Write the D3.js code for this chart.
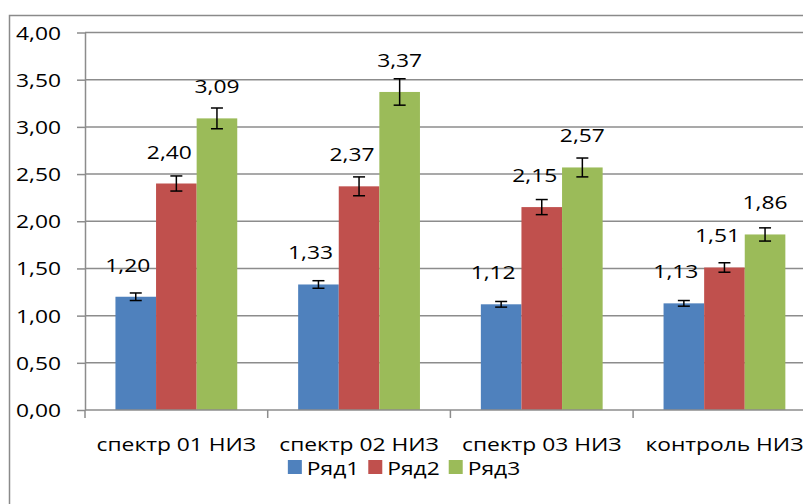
<!DOCTYPE html>
<html>
<head>
<meta charset="utf-8">
<script src="https://cdn.jsdelivr.net/npm/d3@7"></script>
<style>
  html, body { margin: 0; padding: 0; background: #fff; }
  text { font-family: "Open Sans", "Noto Sans", sans-serif; fill: #000; }
</style>
</head>
<body>
<svg id="chart" width="803" height="504"></svg>
<script>
// ---- data ----
const categories = ["спектр 01 НИЗ", "спектр 02 НИЗ", "спектр 03 НИЗ", "контроль НИЗ"];
const seriesNames = ["Ряд1", "Ряд2", "Ряд3"];
const ryad1 = [1.20, 1.33, 1.12, 1.13];
const ryad2 = [2.40, 2.37, 2.15, 1.51];
const ryad3 = [3.09, 3.37, 2.57, 1.86];
const err1 = [0.04, 0.04, 0.03, 0.03];
const err2 = [0.08, 0.10, 0.08, 0.05];
const err3 = [0.11, 0.14, 0.10, 0.07];
const yTicks = [0, 0.5, 1, 1.5, 2, 2.5, 3, 3.5, 4];

// ---- styles ----
const colors = ["#4F81BD", "#C0504D", "#9BBB59"];
const gridColor = "#8c8c8c";
const SX = 1.2; // horizontal text stretch
const fontSize = 19;

const seriesVals = [ryad1, ryad2, ryad3];
const seriesErr = [err1, err2, err3];
const fmt = v => d3.format(".2f")(v).replace(".", ",");

const svg = d3.select("#chart");
const plotLeft = 85, plotTop = 32.5, plotBottom = 410;
const groupW = 182.7;
const plotRight = plotLeft + categories.length * groupW;

// chart border
svg.append("rect").attr("x", 9.5).attr("y", 15.5)
  .attr("width", 830).attr("height", 520)
  .attr("fill", "#fff").attr("stroke", "#8a8a8a").attr("stroke-width", 1.5);

const x = d3.scaleBand().domain(categories).range([plotLeft, plotRight]).padding(0);
const barW = x.bandwidth() / 4.5;
const xs = d3.scaleBand().domain(seriesNames)
  .range([barW * 0.75, barW * 0.75 + 3 * barW]).padding(0);
const y = d3.scaleLinear().domain([0, 4]).range([plotBottom, plotTop]);

// gridlines
svg.append("g").selectAll("line").data(yTicks.filter(t => t > 0)).join("line")
  .attr("x1", plotLeft).attr("x2", plotRight)
  .attr("y1", d => y(d)).attr("y2", d => y(d))
  .attr("stroke", gridColor).attr("stroke-width", 1.5);

// y axis
const yAxis = svg.append("g").attr("transform", `translate(${plotLeft},0)`)
  .call(d3.axisLeft(y).tickValues(yTicks).tickSize(8).tickSizeOuter(0).tickFormat(""));
yAxis.select(".domain").attr("stroke", gridColor).attr("stroke-width", 1.5);
yAxis.selectAll(".tick line").attr("stroke", gridColor).attr("stroke-width", 1.5);

svg.append("g").selectAll("text").data(yTicks).join("text")
  .attr("transform", d => `translate(61,${y(d) + 7}) scale(${SX},1)`)
  .attr("text-anchor", "end").attr("font-size", fontSize)
  .text(d => fmt(d));

// bars
const groups = svg.append("g").selectAll("g").data(categories).join("g")
  .attr("transform", d => `translate(${x(d)},0)`);

seriesNames.forEach((s, si) => {
  groups.append("rect")
    .attr("x", xs(s)).attr("width", xs.bandwidth())
    .attr("y", (d, i) => y(seriesVals[si][i]))
    .attr("height", (d, i) => y(0) - y(seriesVals[si][i]))
    .attr("fill", colors[si]);
});

// x axis
const xAxisLine = svg.append("g");
xAxisLine.append("line").attr("x1", plotLeft).attr("x2", plotRight)
  .attr("y1", plotBottom).attr("y2", plotBottom)
  .attr("stroke", gridColor).attr("stroke-width", 1.5);
xAxisLine.selectAll("line.tk").data(d3.range(categories.length + 1)).join("line")
  .attr("class", "tk")
  .attr("x1", i => plotLeft + i * x.step()).attr("x2", i => plotLeft + i * x.step())
  .attr("y1", plotBottom).attr("y2", plotBottom + 8)
  .attr("stroke", gridColor).attr("stroke-width", 1.5);

// error bars
const capW = 12;
seriesNames.forEach((s, si) => {
  const cx = xs(s) + xs.bandwidth() / 2;
  groups.each(function(d, i) {
    const g = d3.select(this);
    const v = seriesVals[si][i], e = seriesErr[si][i];
    const eg = g.append("g").attr("stroke", "#000").attr("stroke-width", 1.5);
    eg.append("line").attr("x1", cx).attr("x2", cx).attr("y1", y(v + e)).attr("y2", y(v - e));
    eg.append("line").attr("x1", cx - capW / 2).attr("x2", cx + capW / 2).attr("y1", y(v + e)).attr("y2", y(v + e));
    eg.append("line").attr("x1", cx - capW / 2).attr("x2", cx + capW / 2).attr("y1", y(v - e)).attr("y2", y(v - e));
  });
});

// data labels
const labelDx = [-8, -7, 0];
seriesNames.forEach((s, si) => {
  const cx = xs(s) + xs.bandwidth() / 2 + labelDx[si];
  groups.append("text")
    .attr("transform", (d, i) => `translate(${cx},${y(seriesVals[si][i]) - 25}) scale(${SX},1)`)
    .attr("text-anchor", "middle").attr("font-size", fontSize)
    .text((d, i) => fmt(seriesVals[si][i]));
});

// category labels
svg.append("g").selectAll("text").data(categories).join("text")
  .attr("transform", d => `translate(${x(d) + x.bandwidth() / 2},451) scale(${SX},1)`)
  .attr("text-anchor", "middle").attr("font-size", fontSize)
  .text(d => d);

// legend
const legend = svg.append("g");
const items = legend.selectAll("g").data(seriesNames).join("g");
items.append("rect").attr("width", 14).attr("height", 14).attr("y", 460)
  .attr("fill", (d, i) => colors[i]);
items.append("text").attr("font-size", fontSize).text(d => d)
  .attr("transform", `translate(19,475) scale(${SX},1)`);
const widths = [];
items.each(function() {
  const w = 19 + this.querySelector("text").getComputedTextLength() * SX;
  widths.push(w);
});
const gap = 9;
const total = d3.sum(widths) + gap * (widths.length - 1);
let start = 404 - total / 2;
items.attr("transform", (d, i) => {
  const tx = start;
  start += widths[i] + gap;
  return `translate(${tx},0)`;
});
</script>
</body>
</html>
